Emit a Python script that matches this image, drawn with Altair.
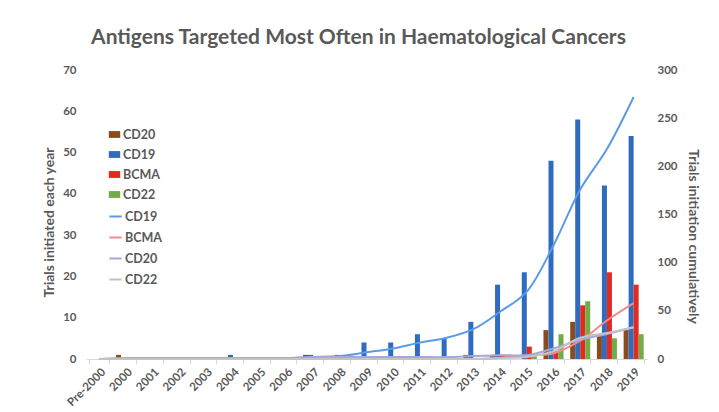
import altair as alt
import pandas as pd

# ---- data ----
years = ["Pre-2000", "2000", "2001", "2002", "2003", "2004", "2005", "2006",
         "2007", "2008", "2009", "2010", "2011", "2012", "2013", "2014",
         "2015", "2016", "2017", "2018", "2019"]

# trials initiated each year (left axis)
cd20 = [0, 1, 0, 0, 0, 0, 0, 0, 1, 0, 0, 0, 0, 0, 1, 1, 0, 7, 9, 6, 7]
cd19 = [0, 0, 0, 0, 0, 1, 0, 0, 1, 1, 4, 4, 6, 5, 9, 18, 21, 48, 58, 42, 54]
bcma = [0, 0, 0, 0, 0, 0, 0, 0, 0, 0, 0, 0, 0, 0, 0, 1, 3, 2, 13, 21, 18]
cd22 = [0, 0, 0, 0, 0, 0, 0, 0, 0, 0, 0, 0, 0, 0, 0, 1, 1, 6, 14, 5, 6]

# cumulative trials (right axis)
cum_cd19 = [0, 0, 0, 0, 0, 1, 1, 1, 2, 3, 7, 11, 17, 22, 31, 49, 70, 118, 176, 218, 272]
cum_bcma = [0, 0, 0, 0, 0, 0, 0, 0, 0, 0, 0, 0, 0, 0, 0, 1, 4, 6, 19, 40, 58]
cum_cd20 = [0, 1, 1, 1, 1, 1, 1, 1, 2, 2, 2, 2, 2, 2, 3, 4, 4, 11, 20, 26, 33]
cum_cd22 = [0, 0, 0, 0, 0, 0, 0, 0, 0, 0, 0, 0, 0, 0, 0, 1, 2, 8, 22, 27, 33]

bar_order = ["CD20", "CD19", "BCMA", "CD22"]
bar_colors = ["#8A4B1F", "#2F6CC0", "#E4291F", "#70AD47"]
line_order = ["CD19", "BCMA", "CD20", "CD22"]
line_colors = ["#5B9BE6", "#F08C8C", "#A3A8E0", "#C3C3C3"]

bar_series = {"CD20": cd20, "CD19": cd19, "BCMA": bcma, "CD22": cd22}
line_series = {"CD19": cum_cd19, "BCMA": cum_bcma, "CD20": cum_cd20, "CD22": cum_cd22}

bars_df = pd.DataFrame([
    {"year": y, "series": s, "value": v}
    for s in bar_order for y, v in zip(years, bar_series[s])
])
lines_df = pd.DataFrame([
    {"year": y, "series": s, "cum": v}
    for s in line_order for y, v in zip(years, line_series[s])
])

GRAY = "#595959"
FONT = "Lato"

x_enc = alt.X(
    "year:N", sort=years,
    scale=alt.Scale(paddingInner=0.25, paddingOuter=0.125),
    axis=alt.Axis(title=None, labelAngle=-45, labelAlign="right", labelBaseline="top",
                  labelFontSize=11.5, tickBand="extent", tickSize=5,
                  tickColor="#D9D9D9", domainColor="#D9D9D9", labelPadding=2),
)

bars = alt.Chart(bars_df).mark_bar().encode(
    x=x_enc,
    xOffset=alt.XOffset("series:N", sort=bar_order,
                        scale=alt.Scale(domain=bar_order, paddingInner=0, paddingOuter=0)),
    y=alt.Y("value:Q",
            scale=alt.Scale(domain=[0, 70], nice=False),
            axis=alt.Axis(title="Trials initiated each year", values=[0, 10, 20, 30, 40, 50, 60, 70],
                          grid=False, domain=False, ticks=False, labelPadding=10,
                          titlePadding=6, labelFontSize=11.5, titleFontSize=14,
                          titleY=152)),
    fill=alt.Fill("series:N", scale=alt.Scale(domain=bar_order, range=bar_colors),
                  legend=alt.Legend(title=None, orient="none", legendX=22, legendY=58,
                                    symbolType="M-1,-0.6H1V0.6H-1Z", symbolSize=130,
                                    labelFontSize=12.5, rowPadding=7, labelOffset=2)),
)

lines = alt.Chart(lines_df).mark_line(interpolate="catmull-rom", strokeWidth=2).encode(
    x=x_enc,
    y=alt.Y("cum:Q",
            scale=alt.Scale(domain=[0, 300], nice=False),
            axis=alt.Axis(title="Trials initiation cumulatively", orient="right",
                          values=[0, 50, 100, 150, 200, 250, 300],
                          grid=False, domain=False, ticks=False, labelPadding=10,
                          titlePadding=8, labelFontSize=11.5, titleFontSize=14,
                          titleY=166)),
    stroke=alt.Stroke("series:N", scale=alt.Scale(domain=line_order, range=line_colors),
                      legend=alt.Legend(title=None, orient="none", legendX=22, legendY=139,
                                        symbolType="stroke", symbolSize=150, symbolStrokeWidth=2,
                                        labelFontSize=12.5, rowPadding=7, labelOffset=2)),
)

chart = alt.layer(bars, lines).resolve_scale(y="independent", fill="independent",
                                              stroke="independent").properties(
    width=561, height=289,
    padding={"left": 34, "top": 19, "right": 5, "bottom": 5},
    title=alt.Title("Antigens Targeted Most Often in Haematological Cancers",
                    fontSize=21, font=FONT, fontWeight="bold", color=GRAY,
                    anchor="middle", offset=16, dx=-8),
).configure_axis(
    labelFont=FONT, labelFontWeight="bold", labelColor=GRAY,
    titleFont=FONT, titleFontWeight="bold", titleColor=GRAY,
).configure_legend(
    labelFont=FONT, labelFontWeight="bold", labelColor=GRAY,
).configure_view(stroke=None)

chart.save("out.html", embed_options={"renderer": "svg", "actions": False})
